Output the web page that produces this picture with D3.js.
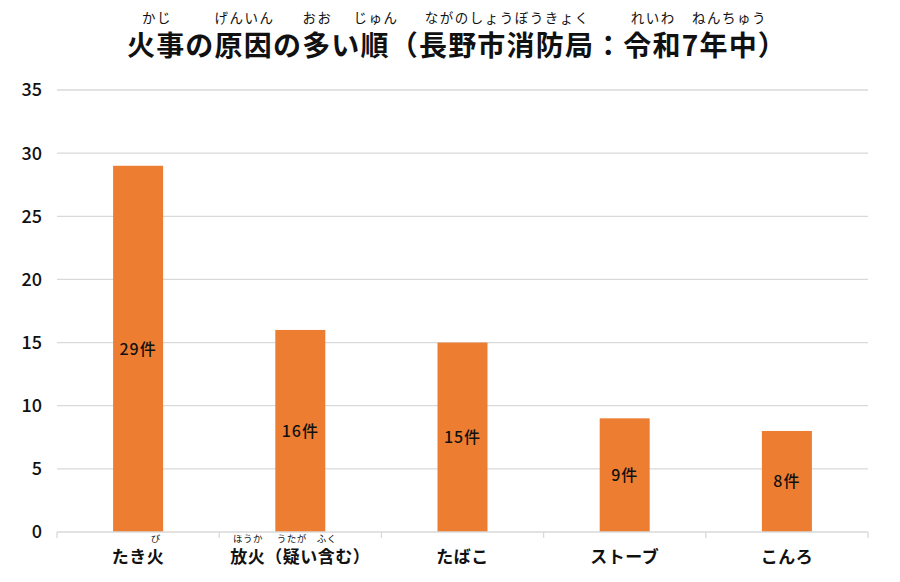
<!DOCTYPE html>
<html><head><meta charset="utf-8">
<script src="https://cdn.jsdelivr.net/npm/d3@7"></script>
<style>
body{margin:0;background:#fff;}
text{font-family:"Noto Sans CJK JP","Noto Sans",sans-serif;}
</style></head>
<body><svg id="c" width="900" height="582"></svg>
<script>
const categories = ["たき火","放火（疑い含む）","たばこ","ストーブ","こんろ"];
const values = [29,16,15,9,8];
const valueLabels = ["29件","16件","15件","9件","8件"];
const yTicks = [0,5,10,15,20,25,30,35];
const titleText = "火事の原因の多い順（長野市消防局：令和7年中）";
// ruby: [start char index, end char index (exclusive), reading]
const titleRuby = [[0,2,"かじ"],[3,5,"げんいん"],[6,7,"おお"],[8,9,"じゅん"],[10,16,"ながのしょうぼうきょく"],[17,19,"れいわ"],[20,22,"ねんちゅう"]];
const catRuby = [[[2,3,"び"]],[[0,2,"ほうか"],[3,4,"うたが"],[5,6,"ふく"]],[],[],[]];

const svg = d3.select("#c");
const m = {l:57, r:868, t:90, b:532};
const x = d3.scaleBand().domain(categories).range([m.l,m.r]).paddingInner(0).paddingOuter(0);
const y = d3.scaleLinear().domain([0,35]).range([m.b,m.t]);

// grid
svg.append("g").selectAll("line").data(yTicks.filter(d=>d>0)).join("line")
  .attr("x1",m.l).attr("x2",m.r).attr("y1",d=>y(d)).attr("y2",d=>y(d))
  .attr("stroke","#d9d9d9").attr("stroke-width",1.3);

// y labels
svg.append("g").selectAll("text").data(yTicks).join("text")
  .attr("x",42).attr("y",d=>y(d)).attr("dy","0.36em").attr("text-anchor","end")
  .attr("font-size",18).attr("font-weight",500).attr("fill","#111")
  .attr("font-family","Liberation Sans, Arial, sans-serif")
  .text(d=>d);

// bars
const bw = 50;
svg.append("g").selectAll("rect").data(values).join("rect")
  .attr("x",(d,i)=>x(categories[i])+x.bandwidth()/2-bw/2)
  .attr("width",bw)
  .attr("y",d=>y(d)).attr("height",d=>y(0)-y(d))
  .attr("fill","#ED7D31");

// x axis line and ticks
const xa = d3.axisBottom(x).tickSize(0).tickFormat("");
svg.append("g").attr("transform",`translate(0,${m.b})`).call(xa)
  .call(g=>g.select(".domain").attr("stroke","#d9d9d9").attr("stroke-width",1.3).attr("d",`M${m.l},0H${m.r}`));
const bounds = categories.map(c=>x(c)).concat([m.r]);
svg.append("g").selectAll("line").data(bounds).join("line")
  .attr("x1",d=>d).attr("x2",d=>d).attr("y1",m.b).attr("y2",m.b+6)
  .attr("stroke","#d9d9d9").attr("stroke-width",1.3);

// value labels
svg.append("g").selectAll("text").data(values).join("text")
  .attr("x",(d,i)=>x(categories[i])+x.bandwidth()/2)
  .attr("y",d=>(y(d)+y(0))/2).attr("dy","0.36em")
  .attr("text-anchor","middle").attr("font-size",16).attr("font-weight",500).attr("fill","#111")
  .attr("letter-spacing",1)
  .text((d,i)=>valueLabels[i]);

function addRuby(textSel, ruby, dy, fs, ls){
  const node = textSel.node();
  ruby.forEach(([s,e,r])=>{
    const x0 = node.getStartPositionOfChar(s).x;
    const x1 = node.getEndPositionOfChar(e-1).x;
    svg.append("text").attr("x",(x0+x1)/2 + ls/2).attr("y",+textSel.attr("y")+dy)
      .attr("text-anchor","middle").attr("font-size",fs).attr("fill","#111")
      .attr("letter-spacing",ls).text(r);
  });
}

// category labels
categories.forEach((c,i)=>{
  const t = svg.append("text").attr("x",x(c)+x.bandwidth()/2).attr("y",563)
    .attr("text-anchor","middle").attr("font-size",17).attr("font-weight",700).attr("fill","#111")
    .attr("letter-spacing",0.5).text(c);
  addRuby(t, catRuby[i], -21, 9.5, 0.5);
});

// title
const title = svg.append("text").attr("x",457).attr("y",56).attr("text-anchor","middle")
  .attr("font-size",28).attr("font-weight",700).attr("fill","#111")
  .attr("letter-spacing",1.2).text(titleText);
addRuby(title, titleRuby, -33, 13.5, 1.5);
</script></body></html>
